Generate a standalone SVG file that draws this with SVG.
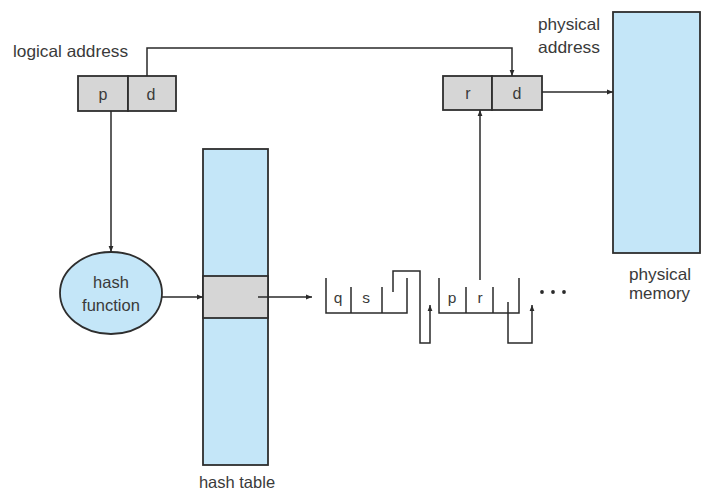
<svg xmlns="http://www.w3.org/2000/svg" width="702" height="497" viewBox="0 0 702 497">
  <style>
    .lbl { font-family: "Liberation Sans", Arial, sans-serif; font-size: 16.5px; fill: #3a3a3a; }
    .cell { font-family: "Liberation Sans", Arial, sans-serif; font-size: 16px; fill: #3a3a3a; text-anchor: middle; }
    .small { font-family: "Liberation Sans", Arial, sans-serif; font-size: 15.5px; fill: #3a3a3a; text-anchor: middle; }
    .box { fill: #d6d6d6; stroke: #2e2e2e; stroke-width: 1.8; }
    .blue { fill: #c4e6f8; stroke: #2e2e2e; stroke-width: 1.8; }
    .wire { fill: none; stroke: #2a2a2a; stroke-width: 1.5; }
  </style>
  <defs>
    <marker id="arrow" viewBox="0 0 10 10" refX="10" refY="5" markerWidth="6" markerHeight="6" orient="auto" markerUnits="userSpaceOnUse">
      <path d="M0,1 L10,5 L0,9 Z" fill="#2a2a2a"/>
    </marker>
  </defs>

  <rect width="702" height="497" fill="#ffffff"/>

  <!-- logical address: page number p and offset d -->
  <g id="logical-address">
    <text class="lbl" x="13" y="57" textLength="115" lengthAdjust="spacingAndGlyphs">logical address</text>
    <rect class="box" x="78" y="76" width="50" height="35"/>
    <rect class="box" x="128" y="76" width="48" height="35"/>
    <text class="cell" x="103" y="100">p</text>
    <text class="cell" x="151" y="100">d</text>
  </g>

  <!-- physical address: frame r and offset d -->
  <g id="physical-address">
    <text class="lbl" x="538" y="30" textLength="62" lengthAdjust="spacingAndGlyphs">physical</text>
    <text class="lbl" x="538" y="53" textLength="62" lengthAdjust="spacingAndGlyphs">address</text>
    <rect class="box" x="443" y="76" width="49" height="34"/>
    <rect class="box" x="492" y="76" width="50" height="34"/>
    <text class="cell" x="468" y="99">r</text>
    <text class="cell" x="517" y="99">d</text>
  </g>

  <!-- physical memory -->
  <g id="physical-memory">
    <rect class="blue" x="613" y="12" width="87" height="241"/>
    <text class="lbl" x="629" y="280" textLength="62" lengthAdjust="spacingAndGlyphs">physical</text>
    <text class="lbl" x="629" y="299" textLength="61" lengthAdjust="spacingAndGlyphs">memory</text>
  </g>

  <!-- hash function -->
  <g id="hash-function">
    <ellipse class="blue" cx="111" cy="293" rx="51" ry="41"/>
    <text class="lbl" x="111" y="288" text-anchor="middle">hash</text>
    <text class="lbl" x="111" y="311" text-anchor="middle">function</text>
  </g>

  <!-- hash table with the selected entry -->
  <g id="hash-table">
    <rect class="blue" x="203" y="149" width="65" height="316"/>
    <rect class="box" x="203" y="276" width="65" height="42"/>
    <text class="lbl" x="237" y="488" text-anchor="middle">hash table</text>
  </g>

  <!-- chain element (q, s, next) -->
  <g id="chain-node-1">
    <path class="wire" d="M326,278 V313 H407 V278 M351,287 V313 M382,287 V313"/>
    <text class="small" x="338" y="303">q</text>
    <text class="small" x="366" y="303">s</text>
  </g>

  <!-- chain element (p, r, next) -->
  <g id="chain-node-2">
    <path class="wire" d="M439,278 V313 H519 V278 M466,287 V313 M493,287 V313"/>
    <text class="small" x="452" y="303">p</text>
    <text class="small" x="480" y="303">r</text>
  </g>

  <!-- continuation of the chain -->
  <g id="ellipsis" fill="#2a2a2a">
    <circle cx="542" cy="292" r="1.9"/>
    <circle cx="553" cy="292" r="1.9"/>
    <circle cx="564" cy="292" r="1.9"/>
  </g>

  <g id="connectors">
    <!-- offset d copied into the physical address -->
    <path class="wire" d="M147,76 V48 H512 V76" marker-end="url(#arrow)"/>
    <!-- page number into the hash function -->
    <path class="wire" d="M111,111 V252" marker-end="url(#arrow)"/>
    <!-- hash function to table entry -->
    <path class="wire" d="M162,297 H203" marker-end="url(#arrow)"/>
    <!-- table entry to first chain element -->
    <path class="wire" d="M258,297 H312" marker-end="url(#arrow)"/>
    <!-- next pointer of the first element -->
    <path class="wire" d="M393,292 V271 H420 V343 H430 V305" marker-end="url(#arrow)"/>
    <!-- next pointer of the second element -->
    <path class="wire" d="M508,302 V343 H532 V305" marker-end="url(#arrow)"/>
    <!-- matching frame r into the physical address -->
    <path class="wire" d="M480,280 V110" marker-end="url(#arrow)"/>
    <!-- physical address into memory -->
    <path class="wire" d="M542,92 H613" marker-end="url(#arrow)"/>
  </g>
</svg>
